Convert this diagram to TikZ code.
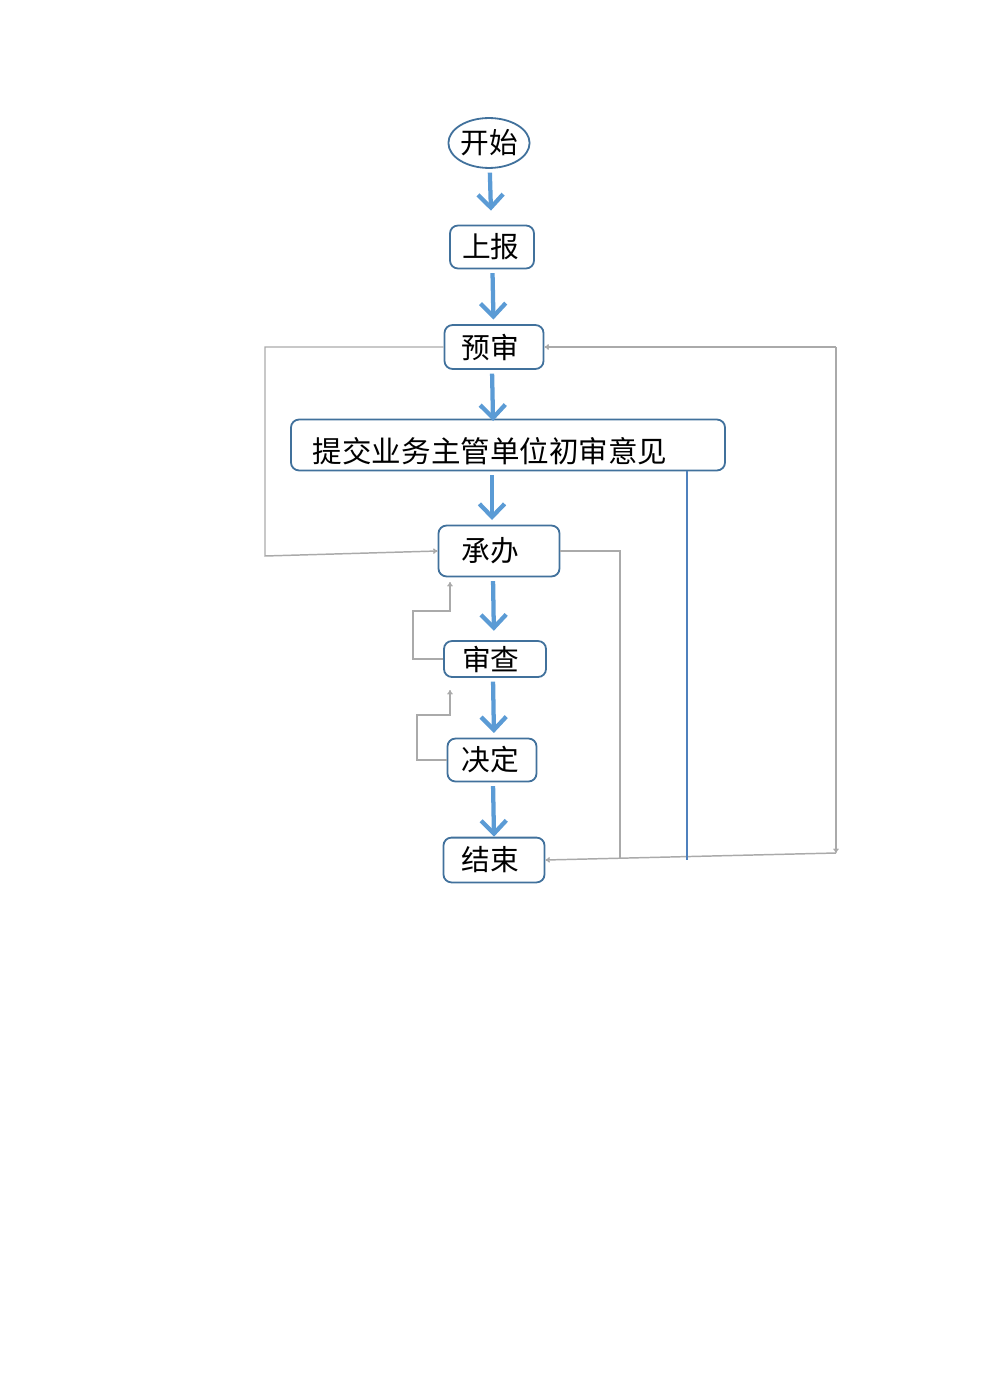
\documentclass[tikz,border=0pt]{standalone}
\usepackage{fontspec}
\newfontfamily\cjk{Noto Sans CJK SC}
\usetikzlibrary{shapes.geometric,arrows.meta}
\definecolor{flowblue}{RGB}{91,155,213}
\definecolor{boxblue}{RGB}{65,113,156}
\definecolor{thinblue}{RGB}{79,129,189}
\definecolor{linegray}{RGB}{170,170,170}
\begin{document}
\begin{tikzpicture}[x=0.2143mm,y=-0.2143mm,
  every node/.style={font=\cjk\fontsize{17.5pt}{20pt}\selectfont},
  stepbox/.style={draw=boxblue,line width=1.1pt,rounded corners=1.7mm,inner ysep=0pt,align=left},
  startnode/.style={ellipse,draw=boxblue,line width=1.1pt,inner sep=0pt,minimum width=16.3mm,minimum height=10.7mm},
  flow/.style={draw=flowblue,line width=2.6pt,-{Straight Barb[length=2.8mm,width=5.4mm]},shorten <=0.8mm,shorten >=1mm},
  back/.style={draw=linegray,line width=0.9pt},
  backarrow/.style={back,-{To[length=1mm,width=1.2mm]}}]
\useasboundingbox (0,0) rectangle (980,1386);
\node (start) [startnode] at (489,143) {开始};
\node (report) [stepbox,inner xsep=2.57mm,text width=12.86mm,minimum height=9.2mm] at (492,247) {上报};
\node (pre) [stepbox,inner xsep=3.64mm,text width=13.93mm,minimum height=9.4mm] at (494,347) {预审};
\node (submit) [stepbox,font=\cjk\fontsize{18pt}{20pt}\selectfont,inner xsep=4.7mm,text width=83.6mm,minimum height=10.9mm,text height=8.3mm,text depth=0.75mm] at (508,445) {提交业务主管单位初审意见};
\node (accept) [stepbox,inner xsep=4.93mm,text width=16.07mm,minimum height=10.9mm] at (499,551) {承办};
\node (check) [stepbox,inner xsep=3.86mm,text width=14.14mm,minimum height=7.7mm] at (495,659) {审查};
\node (decide) [stepbox,inner xsep=3mm,text width=13.07mm,minimum height=9.2mm] at (492,760) {决定};
\node (finish) [stepbox,inner xsep=3.86mm,text width=13.93mm,minimum height=9.6mm] at (494,860) {结束};
\coordinate (lc) at (265,556);
\coordinate (rj) at (620,858);
\coordinate (bj) at (687,860);
\coordinate (rt) at (836,347);
\coordinate (rb) at (836,853);
\coordinate (c1) at (413,611);
\coordinate (c2) at (450,582);
\coordinate (d1) at (417,715);
\coordinate (d2) at (450,690);
\draw [flow,shorten >=3mm] (start) -- (report);
\draw [flow] (report) -- (pre);
\draw [flow,shorten >=-0.5mm] (pre.south -| 492,0) -- (submit.north -| 493,0);
\draw [flow] (submit.south -| 492,0) -- (accept.north -| 492,0);
\draw [flow,shorten >=2mm] (accept.south -| 493,0) -- (check.north -| 494,0);
\draw [flow] (check.south -| 493,0) -- (decide.north -| 494,0);
\draw [flow,shorten >=0mm] (decide.south -| 493,0) -- (finish.north -| 494,0);
\draw [backarrow] (pre.west) -| (lc) -- (accept.west);
\draw [back] (accept.east) -| (rj);
\draw [backarrow] (rt) -- (pre.east);
\draw [backarrow] (rt) -- (rb);
\draw [backarrow] (rb) -- (finish.east);
\draw [draw=thinblue,line width=0.8pt] (submit.south -| bj) -- (bj);
\draw [backarrow] (check.west) -| (c1) -| (c2);
\draw [backarrow] (decide.west) -| (d1) -| (d2);
\end{tikzpicture}
\end{document}
